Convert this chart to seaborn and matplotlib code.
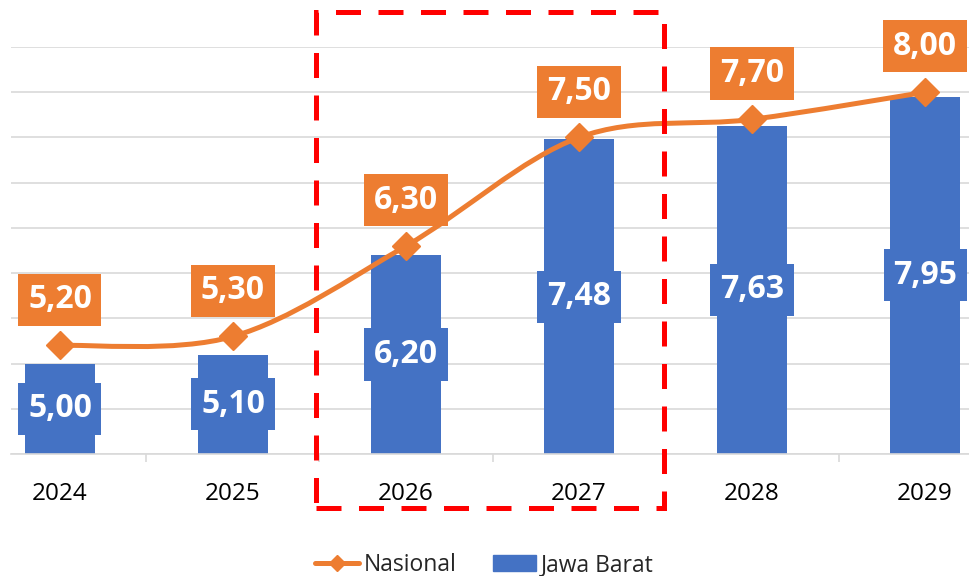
import matplotlib as mpl
import matplotlib.pyplot as plt
import seaborn as sns
from matplotlib.lines import Line2D
from matplotlib.patches import Patch, PathPatch, Rectangle
from matplotlib.path import Path

mpl.use("agg")
sns.set_theme()
sns.set_style("whitegrid")
plt.rcParams["font.family"] = ["Open Sans", "DejaVu Sans"]

years = ["2024", "2025", "2026", "2027", "2028", "2029"]
nasional = [5.20, 5.30, 6.30, 7.50, 7.70, 8.00]
jawa_barat = [5.00, 5.10, 6.20, 7.48, 7.63, 7.95]
highlight = ["2026", "2027"]

ORANGE = "#ED7D31"
BLUE = "#4472C4"
GRID = "#D9D9D9"
Y_MIN, Y_MAX = 4.0, 8.5


def fmt(v):
    return f"{v:.2f}".replace(".", ",")


def smooth_path(xs, ys):
    # excel-like smoothed line: bezier segments with catmull-rom control points
    pts = list(zip(xs, ys))
    n = len(pts)
    verts = [pts[0]]
    codes = [Path.MOVETO]
    for i in range(n - 1):
        p0 = pts[max(i - 1, 0)]
        p1 = pts[i]
        p2 = pts[i + 1]
        p3 = pts[min(i + 2, n - 1)]
        c1 = (p1[0] + (p2[0] - p0[0]) / 6, p1[1] + (p2[1] - p0[1]) / 6)
        c2 = (p2[0] - (p3[0] - p1[0]) / 6, p2[1] - (p3[1] - p1[1]) / 6)
        verts += [c1, c2, p2]
        codes += [Path.CURVE4] * 3
    return Path(verts, codes)


fig = plt.figure(figsize=(9.69, 5.76), dpi=100)
ax = fig.add_axes([11 / 969, 1 - 454 / 576, 958 / 969, 407 / 576])

sns.barplot(
    x=years,
    y=jawa_barat,
    color=BLUE,
    saturation=1,
    width=0.4,
    linewidth=0,
    ax=ax,
    zorder=2,
)

xs = list(range(len(years)))
ax.add_patch(
    PathPatch(
        smooth_path(xs, nasional),
        facecolor="none",
        edgecolor=ORANGE,
        lw=3.6,
        capstyle="round",
        zorder=3,
    )
)
ax.plot(xs, nasional, ls="none", marker="D", ms=14, color=ORANGE, mec=ORANGE, zorder=4)

box = dict(boxstyle="square,pad=0.3", lw=0)
for i, v in enumerate(jawa_barat):
    ax.text(
        i,
        (Y_MIN + v) / 2,
        fmt(v),
        ha="center",
        va="center",
        color="white",
        fontsize=23,
        fontweight="bold",
        bbox=dict(box, fc=BLUE),
        zorder=5,
    )
for i, v in enumerate(nasional):
    ax.annotate(
        fmt(v),
        (i, v),
        xytext=(0, 33),
        textcoords="offset points",
        ha="center",
        va="center",
        color="white",
        fontsize=23,
        fontweight="bold",
        bbox=dict(box, fc=ORANGE),
        annotation_clip=False,
        zorder=5,
    )

# axes styling
ax.set_xlim(-0.283, 5.254)
ax.set_ylim(Y_MIN, Y_MAX)
ax.set_yticks([Y_MIN + 0.5 * k for k in range(10)])
ax.set_yticklabels([])
ax.set_xlabel("")
ax.set_ylabel("")
ax.set_axisbelow(True)
ax.xaxis.grid(False)
ax.yaxis.grid(True, color=GRID, lw=1.2)
for side in ["left", "right", "top"]:
    ax.spines[side].set_visible(False)
ax.spines["bottom"].set_color(GRID)
ax.spines["bottom"].set_linewidth(1.2)
ax.set_xticks([i + 0.5 for i in range(len(years) - 1)], minor=True)
ax.tick_params(axis="y", left=False, length=0)
ax.tick_params(axis="x", which="major", bottom=False, length=0, pad=20, labelsize=17.5, labelcolor="black")
ax.tick_params(axis="x", which="minor", bottom=True, length=6, width=1.2, color=GRID)

# red dashed highlight around the selected years
i0 = years.index(highlight[0])
i1 = years.index(highlight[-1])
ax.add_patch(
    Rectangle(
        (i0 - 0.52, -0.133),
        (i1 - i0) + 1.01,
        1.22,
        transform=ax.get_xaxis_transform(),
        fill=False,
        ec="#FF0000",
        lw=3.6,
        ls=(0, (5, 3.5)),
        clip_on=False,
        zorder=6,
    )
)

handles = [
    Line2D([], [], color=ORANGE, lw=3.6, marker="D", ms=8),
    Patch(color=BLUE),
]
fig.legend(
    handles,
    ["Nasional", "Jawa Barat"],
    loc="center",
    bbox_to_anchor=(0.5, 1 - 565 / 576),
    ncol=2,
    frameon=False,
    fontsize=16.5,
    handlelength=1.9,
    handletextpad=0.2,
    columnspacing=1.6,
)

fig.savefig("out.png", dpi=100)
